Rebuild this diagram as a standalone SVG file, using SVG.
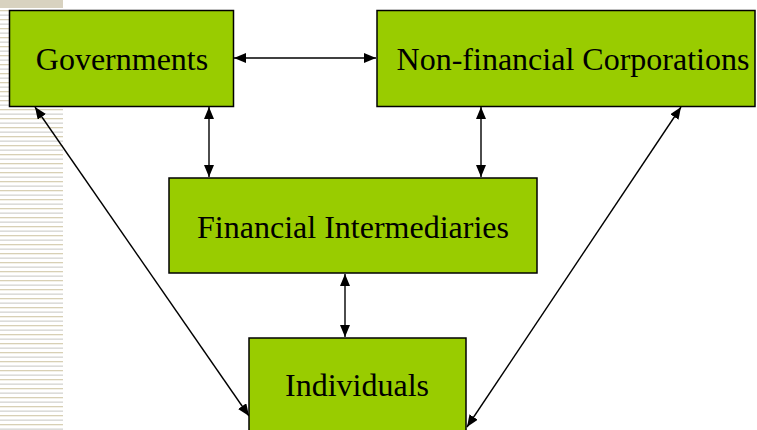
<svg xmlns="http://www.w3.org/2000/svg" width="757" height="430" viewBox="0 0 757 430">
  <defs>
    <pattern id="stripes" x="0" y="10" width="63" height="9" patternUnits="userSpaceOnUse">
      <rect x="0" y="0" width="63" height="1.3" fill="#d8d0b4"/>
      <rect x="0" y="4.5" width="63" height="1.3" fill="#d4d4d0"/>
    </pattern>
    <marker id="head" viewBox="0 0 12 10" refX="12" refY="5" markerWidth="12" markerHeight="10" markerUnits="userSpaceOnUse" orient="auto-start-reverse">
      <path d="M0,0 L12,5 L0,10 Z" fill="#000"/>
    </marker>
  </defs>
  <style>
    .box { fill: #99cc00; stroke: #000; stroke-width: 1.5; }
    .label { font-family: "Liberation Serif", "Times New Roman", serif; font-size: 32px; fill: #000; text-anchor: middle; }
    .link { stroke: #000; stroke-width: 1.4; fill: none; marker-start: url(#head); marker-end: url(#head); }
  </style>

  <rect width="757" height="430" fill="#fff"/>
  <!-- slide margin decoration -->
  <rect x="0" y="0" width="63" height="8" fill="#d8d2c0"/>
  <rect x="0" y="10" width="63" height="420" fill="url(#stripes)"/>

  <g id="connectors">
    <line class="link" x1="234" y1="58" x2="376" y2="58"/>
    <line class="link" x1="209" y1="107" x2="209" y2="177"/>
    <line class="link" x1="481" y1="107" x2="481" y2="177"/>
    <line class="link" x1="345" y1="274" x2="345" y2="337"/>
    <line class="link" x1="35" y1="107" x2="249" y2="416"/>
    <line class="link" x1="681" y1="107" x2="467" y2="427"/>
  </g>

  <g id="governments">
    <rect class="box" x="9.5" y="10.5" width="224" height="96"/>
    <text class="label" x="122" y="70">Governments</text>
  </g>
  <g id="nonfinancial">
    <rect class="box" x="377" y="10.5" width="378" height="96"/>
    <text class="label" x="573" y="70">Non-financial Corporations</text>
  </g>
  <g id="intermediaries">
    <rect class="box" x="169" y="178" width="368" height="95"/>
    <text class="label" x="353" y="238">Financial Intermediaries</text>
  </g>
  <g id="individuals">
    <rect class="box" x="249" y="338" width="217" height="100"/>
    <text class="label" x="357" y="396">Individuals</text>
  </g>
</svg>
